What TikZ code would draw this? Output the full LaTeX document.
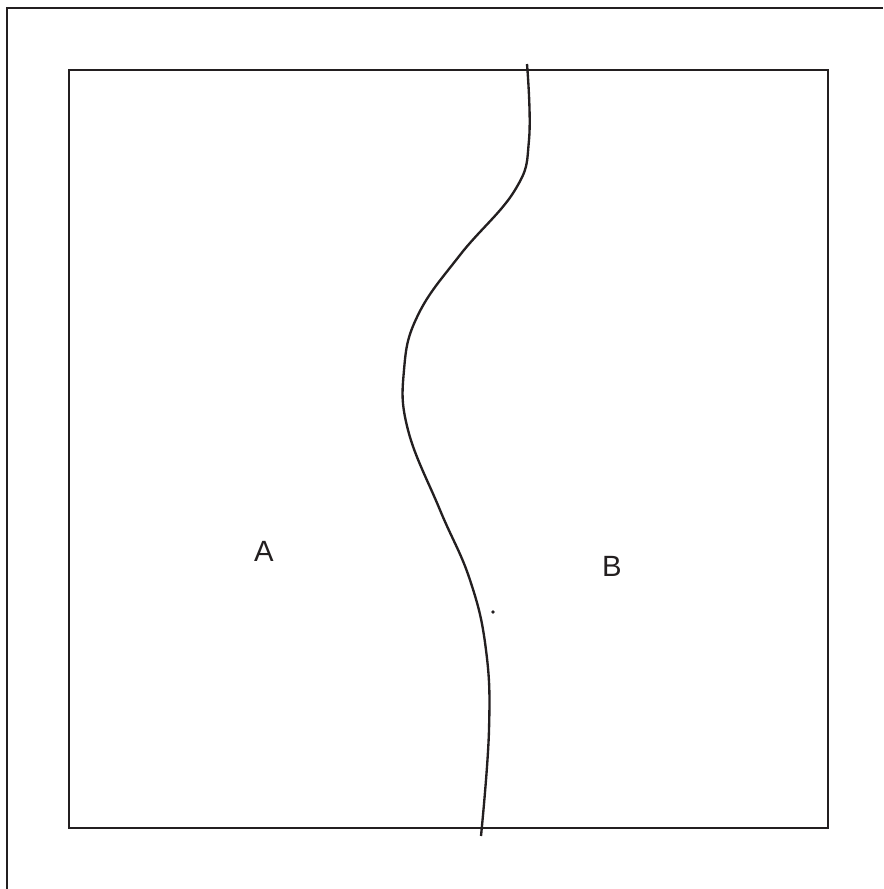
\documentclass[tikz,border=0pt]{standalone}
\usepackage{fontspec}
\setsansfont{Liberation Sans}
\usetikzlibrary{positioning}
\definecolor{ink}{HTML}{231F20}
\tikzset{
  frameline/.style={draw=ink,line width=2.3pt},
  regionlabel/.style={font=\sffamily\fontsize{25}{29}\selectfont,text=ink},
}
\begin{document}
\begin{tikzpicture}[x=0.03cm,y=-0.03cm]
  \useasboundingbox (0,0) rectangle (883,889);
  % outer frame
  \draw[frameline] (7,889) -- (7,8) -- (883,8);
  % square region
  \draw[frameline] (69,70) rectangle (828,828);
  % boundary curve
  \draw[draw=ink,line width=2pt] plot[smooth,tension=0.7] coordinates {
    (527,64) (529,140) (515,190) (460,255) (418,315) (404,370) (408,430)
    (440,510) (470,580) (486,650) (489,730) (481,836)};
  \node[regionlabel] (A) at (264,551) {A};
  \node[regionlabel] (B) at (612,566) {B};
  \fill[ink] (493,612) circle (1.8);
\end{tikzpicture}
\end{document}
